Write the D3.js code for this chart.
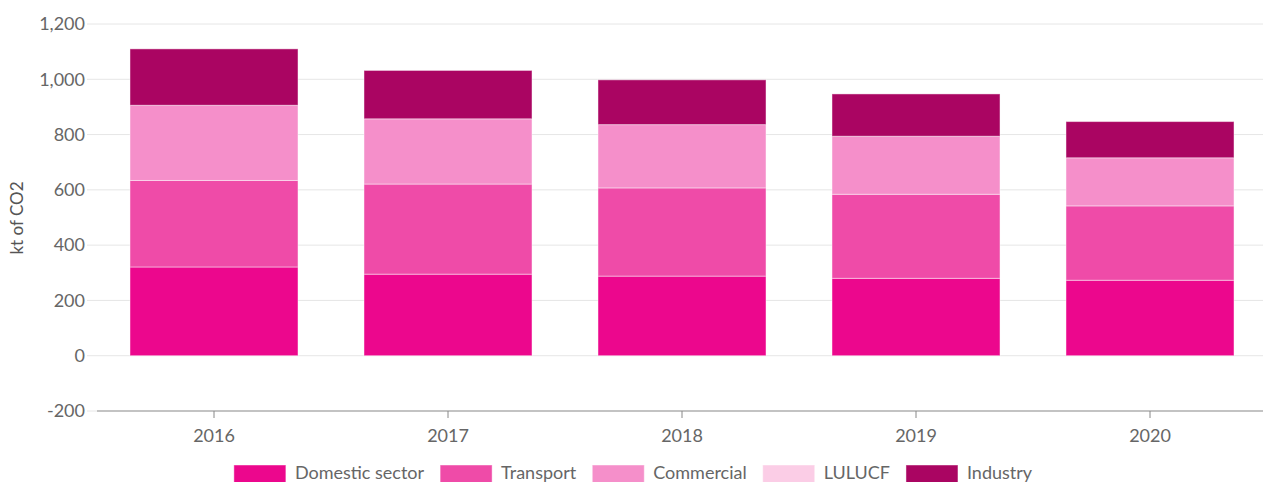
<!DOCTYPE html>
<html>
<head>
<meta charset="utf-8">
<script src="https://cdn.jsdelivr.net/npm/d3@7"></script>
<style>
  body { margin: 0; background: #fff; }
  svg { display: block; font-family: Lato, "Open Sans", sans-serif; }
</style>
</head>
<body>
<svg width="1263" height="482"></svg>
<script>
// data (kt of CO2)
var years = ["2016", "2017", "2018", "2019", "2020"];
var seriesNames = ["Domestic sector", "Transport", "Commercial", "LULUCF", "Industry"];
var domestic = [321, 295, 288, 280, 273];
var transport = [313, 326, 319, 304, 269];
var commercial = [272, 236, 229, 210, 174];
var lulucf = [0, 0, 0, 0, 0];
var industry = [204, 175, 162, 153, 131];
var yTicks = [-200, 0, 200, 400, 600, 800, 1000, 1200];
var colors = ["#ec078d", "#ef4ba8", "#f58fca", "#fbcde6", "#aa0562"];

var svg = d3.select("svg");

var rows = years.map(function(y, i) {
  return {year: y, "Domestic sector": domestic[i], "Transport": transport[i],
    "Commercial": commercial[i], "LULUCF": lulucf[i], "Industry": industry[i]};
});

var x = d3.scaleBand()
  .domain(years)
  .range([97, 1267])
  .paddingInner(0.282)
  .paddingOuter(0.141);

var y = d3.scaleLinear()
  .domain([-200, 1200])
  .range([411, 24]);

var z = d3.scaleOrdinal().domain(seriesNames).range(colors);

// gridlines + y labels
var gy = svg.append("g");
gy.selectAll("line")
  .data(yTicks.filter(function(d) { return d !== -200; }))
  .enter().append("line")
  .attr("x1", 87).attr("x2", 1263)
  .attr("y1", function(d) { return y(d); })
  .attr("y2", function(d) { return y(d); })
  .attr("stroke", "#e6e6e6");
gy.append("line")
  .attr("x1", 87).attr("x2", 97)
  .attr("y1", y(-200)).attr("y2", y(-200))
  .attr("stroke", "#e6e6e6");
gy.selectAll("text")
  .data(yTicks)
  .enter().append("text")
  .attr("x", 85)
  .attr("y", function(d) { return y(d); })
  .attr("dy", "0.35em")
  .attr("text-anchor", "end")
  .attr("font-size", 18)
  .attr("fill", "#666")
  .text(function(d) { return d3.format(",")(d).replace("−", "-"); });

svg.append("text")
  .attr("transform", "translate(23," + 218 + ") rotate(-90)")
  .attr("text-anchor", "middle")
  .attr("font-size", 17)
  .attr("fill", "#555")
  .text("kt of CO2");

// stacked bars
var stack = d3.stack().keys(seriesNames).offset(d3.stackOffsetDiverging);
svg.append("g")
  .selectAll("g")
  .data(stack(rows))
  .enter().append("g")
  .attr("fill", function(d) { return z(d.key); })
  .selectAll("rect")
  .data(function(d) { return d; })
  .enter().append("rect")
  .attr("x", function(d) { return x(d.data.year); })
  .attr("y", function(d) { return y(d[1]); })
  .attr("width", x.bandwidth())
  .attr("height", function(d) { return y(d[0]) - y(d[1]); })
  .attr("stroke", "#fff")
  .attr("stroke-opacity", 0.45)
  .attr("stroke-width", 1);

// x axis
var gx = svg.append("g").attr("transform", "translate(0," + y(-200) + ")");
gx.append("line")
  .attr("x1", 97).attr("x2", 1263)
  .attr("stroke", "#888").attr("stroke-width", 1.2);
var tick = gx.selectAll(".tick")
  .data(years)
  .enter().append("g")
  .attr("transform", function(d) { return "translate(" + (x(d) + x.bandwidth() / 2) + ",0)"; });
tick.append("line").attr("y2", 7).attr("stroke", "#888");
tick.append("text")
  .attr("y", 25)
  .attr("dy", "0.35em")
  .attr("text-anchor", "middle")
  .attr("font-size", 18)
  .attr("fill", "#666")
  .text(function(d) { return d; });

// legend, centred on the page
var legend = svg.append("g");
var items = legend.selectAll("g")
  .data(seriesNames)
  .enter().append("g");
items.append("rect")
  .attr("y", 465)
  .attr("width", 52)
  .attr("height", 20)
  .attr("fill", z)
  .attr("stroke", "#fff")
  .attr("stroke-opacity", 0.45);
items.append("text")
  .attr("x", 61)
  .attr("y", 479)
  .attr("font-size", 18)
  .attr("fill", "#666")
  .text(function(d) { return d; });

var pos = 0;
items.each(function() {
  var w = d3.select(this).select("text").node().getComputedTextLength();
  d3.select(this).attr("transform", "translate(" + pos + ",0)");
  pos += 61 + w + 16;
});
var total = pos - 16;
legend.attr("transform", "translate(" + (633 - total / 2) + ",0)");
</script>
</body>
</html>
